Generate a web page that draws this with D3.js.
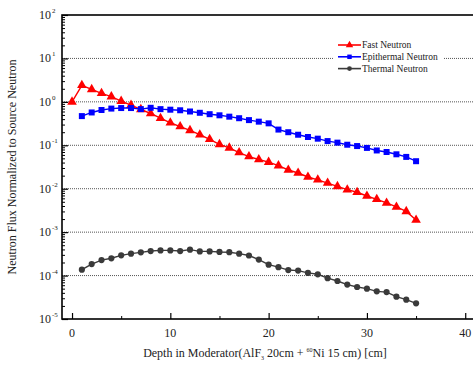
<!DOCTYPE html>
<html><head><meta charset="utf-8">
<script src="https://cdn.jsdelivr.net/npm/d3@7"></script>
<style>body{margin:0;background:#fff}svg{display:block}text{font-family:"Liberation Serif","Times New Roman",serif}</style>
</head><body>
<svg id="c" width="473" height="369"></svg>
<script>
const depthFast = d3.range(0, 36);
const depthEpi = d3.range(1, 36);
const depthTh = d3.range(1, 36);
const fast = [1.0,2.4,1.94,1.57,1.32,1.04,0.84,0.67,0.54,0.42,0.33,0.27,0.22,0.175,0.137,0.105,0.087,0.068,0.055,0.047,0.041,0.034,0.027,0.023,0.0186,0.016,0.0135,0.0113,0.0095,0.0083,0.0068,0.0057,0.0047,0.0038,0.0030,0.0019];
const epi = [0.47,0.57,0.65,0.70,0.72,0.72,0.68,0.73,0.68,0.66,0.64,0.60,0.56,0.52,0.49,0.456,0.42,0.38,0.35,0.32,0.23,0.20,0.175,0.155,0.142,0.125,0.115,0.103,0.096,0.087,0.076,0.070,0.062,0.054,0.043];
const thermal = [1.37e-4,1.84e-4,2.27e-4,2.5e-4,2.92e-4,3.2e-4,3.43e-4,3.67e-4,3.8e-4,3.8e-4,3.67e-4,3.95e-4,3.6e-4,3.6e-4,3.5e-4,3.45e-4,3.2e-4,2.9e-4,2.33e-4,1.78e-4,1.56e-4,1.34e-4,1.3e-4,1.15e-4,1.07e-4,8.7e-5,7.5e-5,6.2e-5,5.45e-5,5.0e-5,4.33e-5,4.17e-5,3.27e-5,2.79e-5,2.29e-5];
const xTicks = [0,10,20,30,40];
const xMinor = [5,15,25,35];
const yExps = [-5,-4,-3,-2,-1,0,1,2];
const seriesNames = ["Fast Neutron","Epithermal Neutron","Thermal Neutron"];
const xTitle = "Depth in Moderator(AlF";
const yTitle = "Neutron Flux Normalized to Source Neutron";

const svg = d3.select("#c");
const L=62, T=15, B=319;
const x = d3.scaleLinear().domain([-1.02, 41]).range([L, L + 42.02*9.83]);
const y = d3.scaleLog().domain([1e-5, 1e2]).range([B, T]);
const R = x(41);

// grid lines
const grid = svg.append("g");
yExps.filter(e => e > -5 && e < 2).forEach(e => {
  grid.append("line").attr("x1", L).attr("x2", R).attr("y1", y(Math.pow(10,e))).attr("y2", y(Math.pow(10,e)))
    .attr("stroke", "#555").attr("stroke-width", 1).attr("stroke-dasharray", "1,1");
});

// y axis (ticks inside)
const minorY = [];
for (let e=-5; e<2; e++) for (let k=2;k<=9;k++) minorY.push(k*Math.pow(10,e));
const yAxis = d3.axisRight(y).tickValues(yExps.map(e=>Math.pow(10,e))).tickSize(6).tickFormat("");
svg.append("g").attr("transform", `translate(${L},0)`).call(yAxis).call(g=>{g.select(".domain").remove(); g.selectAll("line").attr("stroke","#000").attr("stroke-width",1.2);});
const yAxisMinor = d3.axisRight(y).tickValues(minorY).tickSize(3).tickFormat("");
svg.append("g").attr("transform", `translate(${L},0)`).call(yAxisMinor).call(g=>{g.select(".domain").remove(); g.selectAll("line").attr("stroke","#000").attr("stroke-width",1);});

// y labels with superscripts
const yl = svg.append("g");
yExps.forEach(e => {
  const t = yl.append("text").attr("x", 51).attr("y", y(Math.pow(10,e)) + 4).attr("text-anchor","end")
    .attr("font-size", 12).attr("fill","#222").text("10");
  yl.append("text").attr("x", 52).attr("y", y(Math.pow(10,e)) - 2).attr("font-size", 7).attr("fill","#222").text(String(e));
});

// x axis (ticks inside, upward)
const xAxis = d3.axisTop(x).tickValues(xTicks).tickSize(6).tickFormat("");
svg.append("g").attr("transform", `translate(0,${B})`).call(xAxis).call(g=>{g.select(".domain").remove(); g.selectAll("line").attr("stroke","#000").attr("stroke-width",1.2);});
const xAxisMinor = d3.axisTop(x).tickValues(xMinor).tickSize(3).tickFormat("");
svg.append("g").attr("transform", `translate(0,${B})`).call(xAxisMinor).call(g=>{g.select(".domain").remove(); g.selectAll("line").attr("stroke","#000").attr("stroke-width",1);});
svg.append("g").selectAll("text").data(xTicks).join("text")
  .attr("x", d=>x(d)).attr("y", 337).attr("text-anchor","middle").attr("font-size",12).attr("fill","#222").text(d=>d);

// frame
svg.append("rect").attr("x", L).attr("y", T).attr("width", R-L).attr("height", B-T)
  .attr("fill","none").attr("stroke","#000").attr("stroke-width",1.6);

// series
const colors = ["#ff0000","#0000ff","#3a3a3a"];
const data = [
  depthFast.map((d,i)=>[d, fast[i]]),
  depthEpi.map((d,i)=>[d, epi[i]]),
  depthTh.map((d,i)=>[d, thermal[i]])
];
const line = d3.line().x(d=>x(d[0])).y(d=>y(d[1]));
const symbols = [d3.symbolTriangle, d3.symbolSquare, d3.symbolCircle];
const symSizes = [40, 36, 30];
data.forEach((s, i) => {
  svg.append("path").datum(s).attr("d", line).attr("fill","none").attr("stroke", colors[i]).attr("stroke-width", 1.4);
  svg.append("g").selectAll("path").data(s).join("path")
    .attr("transform", d=>`translate(${x(d[0])},${y(d[1])})`)
    .attr("d", d3.symbol().type(symbols[i]).size(symSizes[i])).attr("fill", colors[i]);
});

// legend
const lg = svg.append("g");
lg.append("rect").attr("x", 333).attr("y", 37).attr("width", 111).attr("height", 36).attr("fill","#fff");
seriesNames.forEach((n,i) => {
  const yy = 45 + i*11.8;
  lg.append("line").attr("x1", 338).attr("x2", 361).attr("y1", yy).attr("y2", yy).attr("stroke", colors[i]).attr("stroke-width", 1.6);
  lg.append("path").attr("transform", `translate(349.5,${yy})`).attr("d", d3.symbol().type(symbols[i]).size([24,20,18][i])).attr("fill", colors[i]);
  lg.append("text").attr("x", 362).attr("y", yy+3).attr("font-size", 9.5).attr("fill","#222").text(n);
});

// axis titles
svg.append("text").attr("transform", `translate(16,${(T+B)/2}) rotate(-90)`).attr("text-anchor","middle")
  .attr("font-size", 12).attr("fill","#222").text(yTitle);
const xt = svg.append("text").attr("x", 265).attr("y", 357).attr("text-anchor","middle").attr("font-size", 12).attr("fill","#222");
xt.append("tspan").text(xTitle);
xt.append("tspan").attr("font-size", 6).attr("dy", 3).text("3");
xt.append("tspan").attr("dy", -3).text(" 20cm + ");
xt.append("tspan").attr("font-size", 6).attr("dy", -5).text("60");
xt.append("tspan").attr("dy", 5).text("Ni 15 cm) [cm]");
</script>
</body></html>
